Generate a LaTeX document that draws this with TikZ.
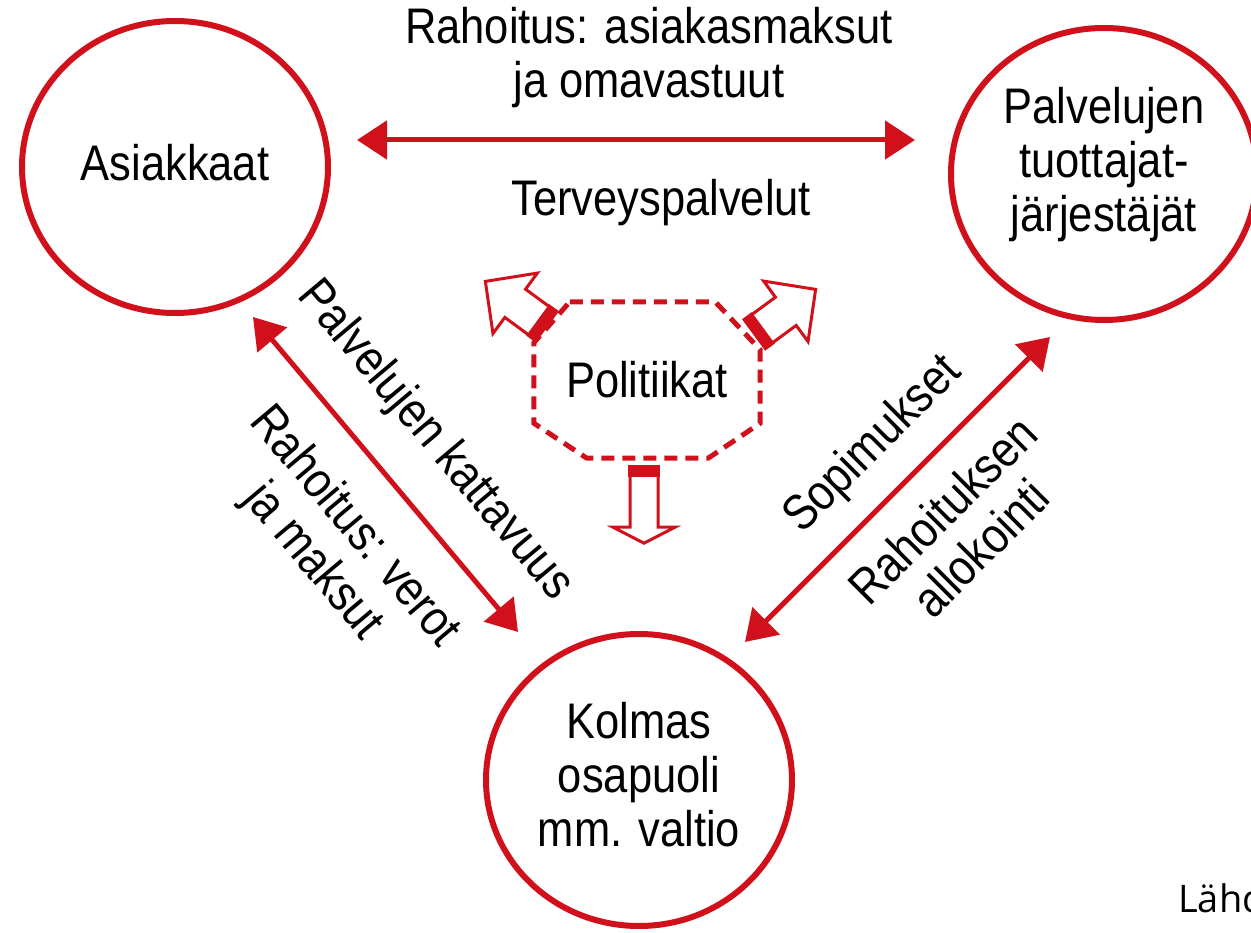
\documentclass[tikz,border=0pt]{standalone}
\usepackage{fontspec}
\setmainfont{Liberation Sans}[FakeStretch=0.87]
\newfontfamily\srcfont{Open Sans}
\usetikzlibrary{positioning, calc, arrows.meta, shapes.geometric}
\definecolor{rd}{RGB}{208,17,27}
\tikzset{
  party/.style={ellipse,draw=rd,line width=6pt,minimum width=306pt,
    minimum height=292pt,inner sep=0pt},
  lbl/.style={font=\fontsize{50}{54}\selectfont,align=center,inner sep=0pt},
  biarr/.style={{Triangle[length=30pt,width=38pt]}-{Triangle[length=30pt,width=38pt]},
    line width=5pt,draw=rd},
  polline/.style={draw=rd,line width=5pt,dash pattern=on 13pt off 8pt},
  pics/polarrow/.style n args={4}{code={
    \draw[rd,line width=3pt,fill=white] (0,-#3/2) -- (#1-#2,-#3/2) -- (#1-#2,-#4/2)
      -- (#1,0) -- (#1-#2,#4/2) -- (#1-#2,#3/2) -- (0,#3/2) -- cycle;
    \fill[rd] (-2,-#3/2-2) rectangle (10,#3/2+2);
  }},
}

\begin{document}
\begin{tikzpicture}[x=1pt,y=-1pt]
  \useasboundingbox (0,0) rectangle (1251,933);
  \node[party,label={[lbl,yshift=4pt]center:{Asiakkaat}}] (asiak) at (175,167) {};
  \node[party,label={[lbl,yshift=9pt]center:{Palvelujen\\tuottajat-\\järjestäjät}}]
    (palv) at (1104,174) {};
  \node[party,label={[lbl,yshift=5pt]center:{Kolmas\\osapuoli\\mm. valtio}}]
    (kolm) at (639,780) {};
  \node[lbl,minimum width=226pt,minimum height=156pt] (pol) at (647,380) {Politiikat};

  % politiikat octagon
  \draw[polline] ($(pol.north west)+(36,0)$) -- ($(pol.north east)+(-45,0)$)
    -- ($(pol.north east)+(0,48)$) -- ($(pol.south east)+(0,-35)$)
    -- ($(pol.south east)+(-52,0)$) -- ($(pol.south west)+(53,0)$)
    -- ($(pol.south west)+(0,-35)$) -- ($(pol.north west)+(0,41)$) -- cycle;
  \pic[rotate=143.7] at ($(pol.north west)+(12,24)$) {polarrow={75}{37}{35}{75}};
  \pic[rotate=36.3] at ($(pol.north east)+(-5,32)$) {polarrow={75}{37}{35}{75}};
  \pic[rotate=-90] at ($(pol.south)+(-3,9)$) {polarrow={76}{16}{28}{62}};

  % flows between the parties
  \draw[biarr] ($(asiak.center)+(182,-27)$) --
    node[lbl,pos=0.523,above=29.5pt]{Rahoitus: asiakasmaksut\\ja omavastuut}
    node[lbl,pos=0.545,below=36.5pt]{Terveyspalvelut}
    ($(palv.center)+(-189,-34)$);
  \draw[biarr] ($(asiak.center)+(78,150)$) --
    node[lbl,sloped,pos=0.515,above=33.5pt]{Palvelujen kattavuus}
    node[lbl,sloped,pos=0.549,below=32.5pt]{Rahoitus: verot\\ja maksut}
    ($(kolm.center)+(-121,-148)$);
  \draw[biarr] ($(kolm.center)+(106,-138)$) --
    node[lbl,sloped,pos=0.533,above=22.5pt]{Sopimukset}
    node[lbl,sloped,pos=0.54,below=25pt]{Rahoituksen\\allokointi}
    ($(palv.center)+(-54,163)$);

  \node[font=\srcfont\fontsize{38}{42}\selectfont,anchor=base west,inner sep=0pt]
    (src) at (1178,912) {Lähde:};
\end{tikzpicture}
\end{document}
